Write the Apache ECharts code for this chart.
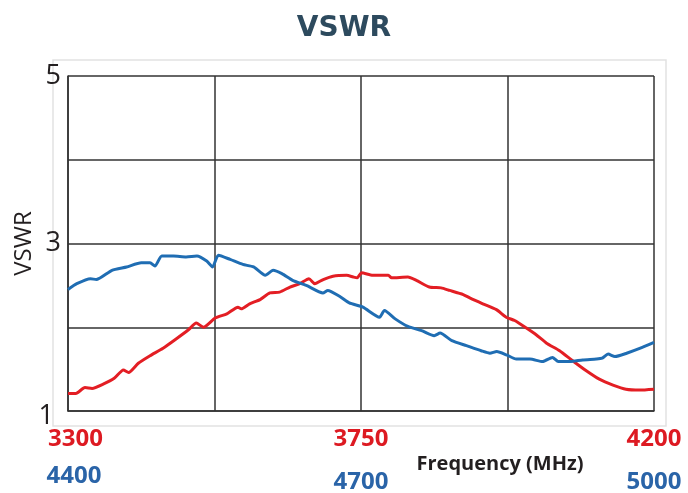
<!DOCTYPE html>
<html>
<head>
<meta charset="utf-8">
<script src="https://cdn.jsdelivr.net/npm/echarts@6/dist/echarts.min.js"></script>
<style>
  html, body { margin: 0; padding: 0; background: #fff; }
  #chart { width: 688px; height: 493px; }
</style>
</head>
<body>
<div id="chart"></div>
<script>
// 红线: 3300-4200 MHz 频段
const redFreq = [3300, 3312, 3326, 3337, 3354, 3371, 3385, 3393, 3408, 3426, 3446, 3466, 3485, 3497, 3508, 3526, 3544, 3561, 3566, 3579, 3595, 3610, 3625, 3641, 3656, 3670, 3679, 3692, 3707, 3728, 3738, 3744, 3751, 3768, 3792, 3797, 3822, 3835, 3855, 3873, 3886, 3907, 3917, 3937, 3958, 3973, 3986, 4004, 4019, 4035, 4055, 4075, 4096, 4116, 4137, 4157, 4178, 4200]
const redVswr = [1.21, 1.21, 1.28, 1.27, 1.32, 1.39, 1.49, 1.46, 1.57, 1.66, 1.75, 1.86, 1.97, 2.05, 2.00, 2.11, 2.16, 2.24, 2.22, 2.28, 2.33, 2.41, 2.42, 2.48, 2.52, 2.58, 2.52, 2.57, 2.61, 2.62, 2.60, 2.59, 2.65, 2.62, 2.62, 2.59, 2.60, 2.56, 2.48, 2.47, 2.44, 2.39, 2.35, 2.28, 2.21, 2.12, 2.08, 1.99, 1.91, 1.81, 1.72, 1.60, 1.48, 1.38, 1.31, 1.26, 1.25, 1.26]

// 蓝线: 4400-5000 MHz 频段
const blueFreq = [4400, 4409, 4423, 4429, 4445, 4460, 4475, 4484, 4489, 4496, 4508, 4521, 4532, 4542, 4548, 4554, 4566, 4579, 4590, 4602, 4610, 4619, 4630, 4644, 4661, 4666, 4678, 4688, 4702, 4719, 4724, 4735, 4748, 4762, 4775, 4781, 4793, 4808, 4823, 4832, 4839, 4849, 4859, 4873, 4886, 4896, 4902, 4914, 4927, 4941, 4947, 4953, 4960, 4972, 4986, 5000]
const blueVswr = [2.45, 2.52, 2.58, 2.57, 2.68, 2.72, 2.77, 2.77, 2.73, 2.85, 2.85, 2.84, 2.85, 2.79, 2.72, 2.86, 2.81, 2.75, 2.72, 2.62, 2.68, 2.64, 2.56, 2.50, 2.41, 2.44, 2.37, 2.29, 2.24, 2.12, 2.20, 2.10, 2.01, 1.96, 1.90, 1.93, 1.84, 1.78, 1.72, 1.69, 1.71, 1.67, 1.62, 1.62, 1.59, 1.64, 1.59, 1.59, 1.61, 1.62, 1.63, 1.68, 1.65, 1.69, 1.75, 1.82]

const redTicks = [3300, 3750, 4200]
const blueTicks = [4400, 4700, 5000]
const yTicks = [1, 3, 5]

const font = '"Open Sans", sans-serif'
const myChart = echarts.init(document.getElementById('chart'))

const pair = (xs, ys) => xs.map((x, i) => [x, ys[i]])

const option = {
  animation: false,
  title: {
    text: 'VSWR',
    left: 'center',
    top: 10,
    textStyle: {
      fontFamily: 'DejaVu Sans',
      fontWeight: 'bold',
      fontSize: 28,
      color: '#2d4a5e'
    }
  },
  graphic: [
    {
      type: 'rect',
      shape: { x: 53, y: 60, width: 613, height: 366 },
      style: { fill: 'none', stroke: '#e2e2e2', lineWidth: 1.5 },
      z: 0
    }
  ],
  grid: {
    left: 68,
    right: 34,
    top: 76,
    bottom: 82,
    outerBoundsMode: 'none',
    containLabel: false
  },
  xAxis: [
    {
      type: 'value',
      min: 3300,
      max: 4200,
      interval: 225,
      position: 'bottom',
      axisLine: { show: true, lineStyle: { color: '#333', width: 1.5 } },
      axisTick: { show: false },
      splitLine: { show: true, lineStyle: { color: '#333', width: 1.5 } },
      axisLabel: {
        margin: 16,
        formatter: (v) => {
          if (!redTicks.includes(v)) return ''
          return v === redTicks[0] ? `{first|${v}}` : `{r|${v}}`
        },
        rich: {
          r: { fontFamily: font, fontWeight: 'bold', fontSize: 24, color: '#dd1a22' },
          first: { fontFamily: font, fontWeight: 'bold', fontSize: 24, color: '#dd1a22', padding: [0, 0, 0, 15] }
        }
      }
    },
    {
      type: 'value',
      min: 4400,
      max: 5000,
      interval: 150,
      position: 'bottom',
      axisLine: { show: false },
      axisTick: { show: false },
      splitLine: { show: false },
      name: 'Frequency (MHz)',
      nameLocation: 'middle',
      nameGap: 43,
      nameMoveOverlap: false,
      nameTextStyle: {
        fontFamily: font,
        fontWeight: 'bold',
        fontSize: 20,
        color: '#231f20',
        padding: [0, 0, 0, 278]
      },
      axisLabel: {
        margin: 53,
        formatter: (v) => {
          if (!blueTicks.includes(v)) return ''
          return v === blueTicks[0] ? `{first|${v}}` : `{b|${v}}`
        },
        rich: {
          b: { fontFamily: font, fontWeight: 'bold', fontSize: 24, color: '#2a64a8', lineHeight: 36 },
          first: { fontFamily: font, fontWeight: 'bold', fontSize: 24, color: '#2a64a8', lineHeight: 24, padding: [0, 0, 0, 12] }
        }
      }
    }
  ],
  yAxis: {
    type: 'value',
    min: 1,
    max: 5,
    interval: 1,
    name: 'VSWR',
    nameLocation: 'middle',
    nameGap: 32,
    nameMoveOverlap: false,
    nameRotate: 90,
    nameTextStyle: {
      fontFamily: font,
      fontSize: 24,
      color: '#231f20'
    },
    axisLine: { show: true, lineStyle: { color: '#333', width: 1.5 } },
    axisTick: { show: false },
    splitLine: { show: true, lineStyle: { color: '#333', width: 1.5 } },
    axisLabel: {
      margin: 7,
      formatter: (v) => {
        if (!yTicks.includes(v)) return ''
        return v === 1 ? `{one|${v}}` : `{y|${v}}`
      },
      rich: {
        y: { fontFamily: font, fontSize: 27, color: '#231f20' },
        one: { fontFamily: font, fontSize: 27, color: '#231f20', padding: [10, 7, 0, 0] }
      }
    }
  },
  series: [
    {
      name: '3300-4200',
      type: 'line',
      xAxisIndex: 0,
      data: pair(redFreq, redVswr),
      showSymbol: false,
      smooth: 0.2,
      lineStyle: { color: '#e31e24', width: 3 },
      z: 3
    },
    {
      name: '4400-5000',
      type: 'line',
      xAxisIndex: 1,
      data: pair(blueFreq, blueVswr),
      showSymbol: false,
      smooth: 0.2,
      lineStyle: { color: '#1f6db3', width: 3 },
      z: 3
    }
  ]
}

myChart.setOption(option)
</script>
</body>
</html>
